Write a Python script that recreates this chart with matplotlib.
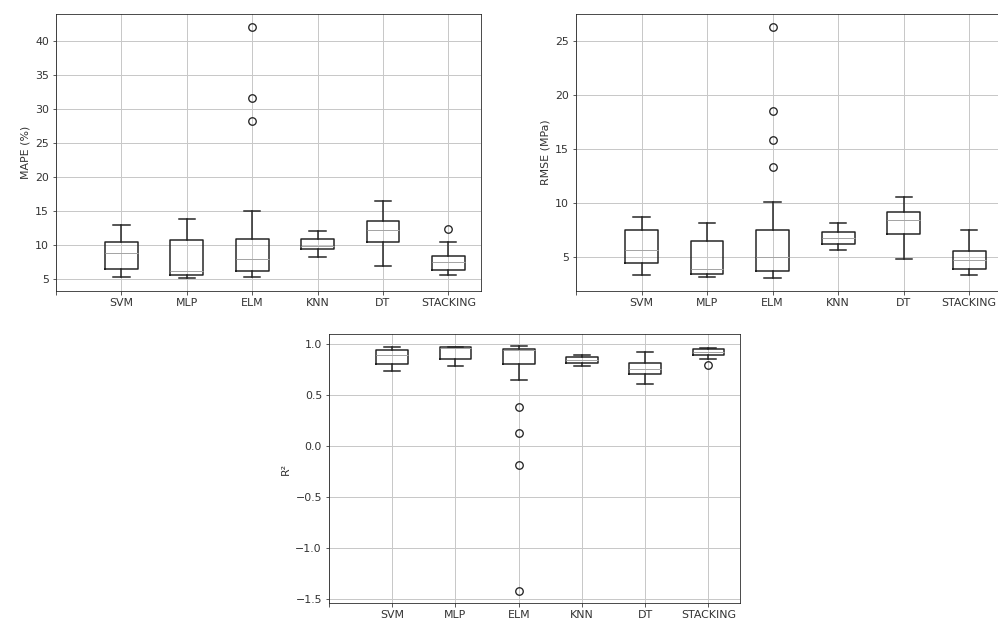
import matplotlib
matplotlib.use("Agg")
import matplotlib.pyplot as plt

models = ["SVM", "MLP", "ELM", "KNN", "DT", "STACKING"]

# MAPE (%) box statistics per model
mape_whislo = [5.3, 5.15, 5.3, 8.3, 7.0, 5.65]
mape_q1 = [6.6, 5.65, 6.2, 9.4, 10.5, 6.4]
mape_med = [8.9, 6.2, 7.95, 9.9, 12.25, 7.55]
mape_q3 = [10.55, 10.75, 10.9, 10.9, 13.5, 8.5]
mape_whishi = [13.0, 13.9, 15.0, 12.05, 16.5, 10.55]
mape_fliers = [[], [], [42.05, 31.6, 28.25], [], [], [12.4]]

# RMSE (MPa) box statistics per model
rmse_whislo = [3.35, 3.15, 3.0, 5.6, 4.8, 3.35]
rmse_q1 = [4.4, 3.45, 3.7, 6.15, 7.1, 3.85]
rmse_med = [5.6, 3.85, 5.0, 6.7, 8.45, 4.7]
rmse_q3 = [7.5, 6.45, 7.5, 7.25, 9.15, 5.5]
rmse_whishi = [8.65, 8.1, 10.05, 8.1, 10.55, 7.5]
rmse_fliers = [[], [], [26.3, 18.45, 15.85, 13.35], [], [], []]

# R² box statistics per model
r2_whislo = [0.735, 0.788, 0.65, 0.788, 0.612, 0.857]
r2_q1 = [0.808, 0.857, 0.808, 0.821, 0.71, 0.899]
r2_med = [0.899, 0.962, 0.945, 0.847, 0.762, 0.93]
r2_q3 = [0.945, 0.97, 0.953, 0.873, 0.821, 0.954]
r2_whishi = [0.97, 0.977, 0.982, 0.892, 0.925, 0.964]
r2_fliers = [[], [], [0.384, 0.13, -0.183, -1.415], [], [], [0.802]]

plt.rcParams["font.family"] = "DejaVu Sans"
plt.rcParams["font.size"] = 11
plt.rcParams["text.color"] = "#333333"
plt.rcParams["axes.labelcolor"] = "#333333"
plt.rcParams["xtick.color"] = "#333333"
plt.rcParams["ytick.color"] = "#333333"

BOX_COLOR = "#222222"
MED_COLOR = "#a5a5a5"


def draw_box(ax, whislo, q1, med, q3, whishi, fliers, ylabel):
    # build the stats dicts that bxp wants and draw them at positions 1..6
    stats = []
    for i in range(len(models)):
        stats.append({
            "whislo": whislo[i], "q1": q1[i], "med": med[i],
            "q3": q3[i], "whishi": whishi[i], "fliers": fliers[i],
            "label": models[i],
        })
    ax.bxp(
        stats,
        positions=range(1, len(models) + 1),
        widths=0.5,
        boxprops=dict(color=BOX_COLOR, linewidth=1.5),
        whiskerprops=dict(color=BOX_COLOR, linewidth=1.5),
        capprops=dict(color=BOX_COLOR, linewidth=1.5),
        medianprops=dict(color=MED_COLOR, linewidth=1.0),
        flierprops=dict(marker="o", markerfacecolor="none",
                        markeredgecolor=BOX_COLOR, markersize=7.5,
                        markeredgewidth=1.3),
    )
    ax.set_xticks(range(0, len(models) + 1))
    ax.set_xticklabels([""] + models)
    ax.set_xlim(0, len(models) + 0.5)
    ax.autoscale(axis="y")
    ax.margins(y=0.05)
    ax.grid(True, color="#c8c8c8", linewidth=1.0)
    ax.set_axisbelow(True)
    ax.set_ylabel(ylabel)
    for sp in ax.spines.values():
        sp.set_color("#222222")


fig = plt.figure(figsize=(998 / 72, 621 / 72), dpi=72)

ax1 = fig.add_axes([56 / 998, 1 - 291 / 621, 425 / 998, 277 / 621])
draw_box(ax1, mape_whislo, mape_q1, mape_med, mape_q3, mape_whishi, mape_fliers, "MAPE (%)")
ax1.set_yticks([5, 10, 15, 20, 25, 30, 35, 40])

ax2 = fig.add_axes([576 / 998, 1 - 291 / 621, 426 / 998, 277 / 621])
draw_box(ax2, rmse_whislo, rmse_q1, rmse_med, rmse_q3, rmse_whishi, rmse_fliers, "RMSE (MPa)")
ax2.set_yticks([5, 10, 15, 20, 25])

ax3 = fig.add_axes([329 / 998, 1 - 603 / 621, 411 / 998, 269 / 621])
draw_box(ax3, r2_whislo, r2_q1, r2_med, r2_q3, r2_whishi, r2_fliers, "R²")
ax3.set_yticks([-1.5, -1.0, -0.5, 0.0, 0.5, 1.0])

fig.savefig("out.png", dpi=72)
